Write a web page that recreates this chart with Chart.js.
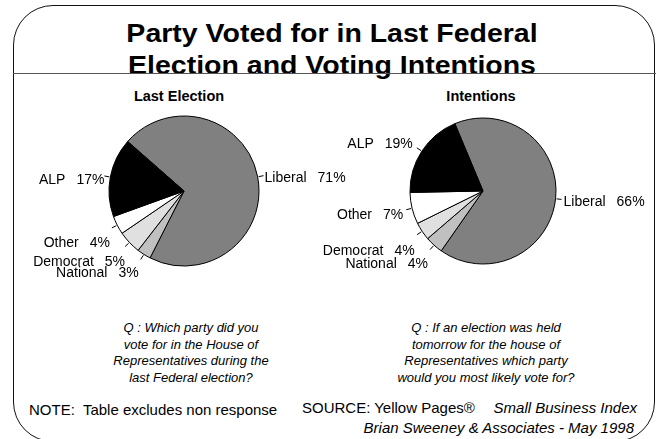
<!DOCTYPE html>
<html>
<head>
<meta charset="utf-8">
<script src="https://cdn.jsdelivr.net/npm/chart.js@4/dist/chart.umd.min.js"></script>
<style>
  body { margin: 0; background: #fff; font-family: "Liberation Sans", Arial, sans-serif; color: #000; }
  #slide { position: relative; width: 658px; height: 439px; overflow: hidden; }
  .frame { position: absolute; left: 13px; top: 5px; width: 640px; height: 435px; border: 1.5px solid #111; border-radius: 40px; }
  .rule { position: absolute; left: 13px; top: 72.5px; width: 643px; border-top: 1.3px solid #555; }
  .title { position: absolute; left: 0; top: 16.7px; width: 664px; text-align: center; font-weight: bold;
           font-size: 25px; line-height: 32.6px; transform: scaleX(1.14); }
  .sub { position: absolute; width: 200px; text-align: center; font-weight: bold; font-size: 14.5px; line-height: 16px; top: 88px; }
  .question { position: absolute; width: 220px; text-align: center; font-style: italic; font-size: 13px; line-height: 16.7px; top: 319.8px; }
  .foot { position: absolute; font-size: 15px; line-height: 18px; white-space: nowrap; }
  .foot i { font-style: italic; }
  .pie { position: absolute; top: 91px; height: 200px; }
</style>
</head>
<body>
<div id="slide">
  <div class="frame"></div>
  <div class="title">Party Voted for in Last Federal<br>Election and Voting Intentions</div>
  <div class="rule"></div>

  <div class="sub" style="left:79px">Last Election</div>
  <div class="sub" style="left:381px">Intentions</div>

  <div class="pie" style="left:19px; width:330px"><canvas id="lastChart" width="330" height="200"></canvas></div>
  <div class="pie" style="left:313px; width:340px"><canvas id="intentChart" width="340" height="200"></canvas></div>

  <div class="question" style="left:81px">Q : Which party did you<br>vote for in the House of<br>Representatives during the<br>last Federal election?</div>
  <div class="question" style="left:376px">Q : If an election was held<br>tomorrow for the house of<br>Representatives which party<br>would you most likely vote for?</div>

  <div class="foot" style="left:29px; top:400.8px">NOTE:&nbsp; Table excludes non response</div>
  <div class="foot" style="left:302px; top:398.8px">SOURCE: Yellow Pages®</div>
  <div class="foot" style="right:21px; top:398.8px"><i>Small Business Index</i></div>
  <div class="foot" style="right:24px; top:418.8px"><i>Brian Sweeney &amp; Associates - May 1998</i></div>
</div>

<script>
const parties = ['Liberal', 'National', 'Democrat', 'Other', 'ALP'];
const lastElection = [71, 3, 5, 4, 17];
const intentions = [66, 4, 4, 7, 19];
const sliceColors = ['#808080', '#c0c0c0', '#e0e0e0', '#ffffff', '#000000'];

// label placement: shift from the end of each leader tick, plus text alignment
const lastLabelPos = [[1, 2.5, 'left'], [-2, 14, 'right'], [0, 15.5, 'right'], [-2, 15, 'right'], [0, 4.5, 'right']];
const intentLabelPos = [[2, 2.6, 'left'], [-2, 15, 'right'], [-2.4, 16.4, 'right'], [-3, 5, 'right'], [-4, -4, 'right']];

// short tick from each slice edge, then "Name   nn%" beside it
const leaderLabels = {
    id: 'leaderLabels',
    afterDatasetsDraw(chart, args, opts) {
        const ctx = chart.ctx;
        const meta = chart.getDatasetMeta(0);
        const values = chart.data.datasets[0].data;
        ctx.save();
        ctx.strokeStyle = '#000';
        ctx.lineWidth = 1;
        ctx.fillStyle = '#000';
        ctx.font = '14px "Liberation Sans", Arial, sans-serif';
        ctx.textBaseline = 'middle';
        meta.data.forEach((arc, i) => {
            const p = arc.getProps(['x', 'y', 'startAngle', 'endAngle', 'outerRadius'], true);
            const mid = (p.startAngle + p.endAngle) / 2;
            const cos = Math.cos(mid), sin = Math.sin(mid);
            const r0 = p.outerRadius + 1, r1 = p.outerRadius + 6;
            ctx.beginPath();
            ctx.moveTo(p.x + r0 * cos, p.y + r0 * sin);
            ctx.lineTo(p.x + r1 * cos, p.y + r1 * sin);
            ctx.stroke();

            const [dx, dy, align] = opts.positions[i];
            const ax = p.x + r1 * cos + dx;
            const ay = p.y + r1 * sin + dy;
            const name = chart.data.labels[i];
            const pct = values[i] + '%';
            const gap = 11;
            if (align === 'left') {
                ctx.textAlign = 'left';
                ctx.fillText(name, ax, ay);
                ctx.fillText(pct, ax + ctx.measureText(name).width + gap, ay);
            } else {
                ctx.textAlign = 'right';
                ctx.fillText(pct, ax, ay);
                ctx.fillText(name, ax - ctx.measureText(pct).width - gap, ay);
            }
        });
        ctx.restore();
    }
};

function makePie(id, values, rotation, radius, positions) {
    return new Chart(document.getElementById(id), {
        type: 'pie',
        data: {
            labels: parties,
            datasets: [{
                data: values,
                backgroundColor: sliceColors,
                borderColor: '#000',
                borderWidth: 1,
                radius: radius
            }]
        },
        options: {
            responsive: false,
            animation: false,
            devicePixelRatio: 1,
            rotation: rotation,
            layout: { padding: 0 },
            plugins: {
                legend: { display: false },
                tooltip: { enabled: false },
                leaderLabels: { positions: positions }
            }
        },
        plugins: [leaderLabels]
    });
}

makePie('lastChart', lastElection, 311.3, 75, lastLabelPos);
makePie('intentChart', intentions, 337.3, 73, intentLabelPos);
</script>
</body>
</html>
